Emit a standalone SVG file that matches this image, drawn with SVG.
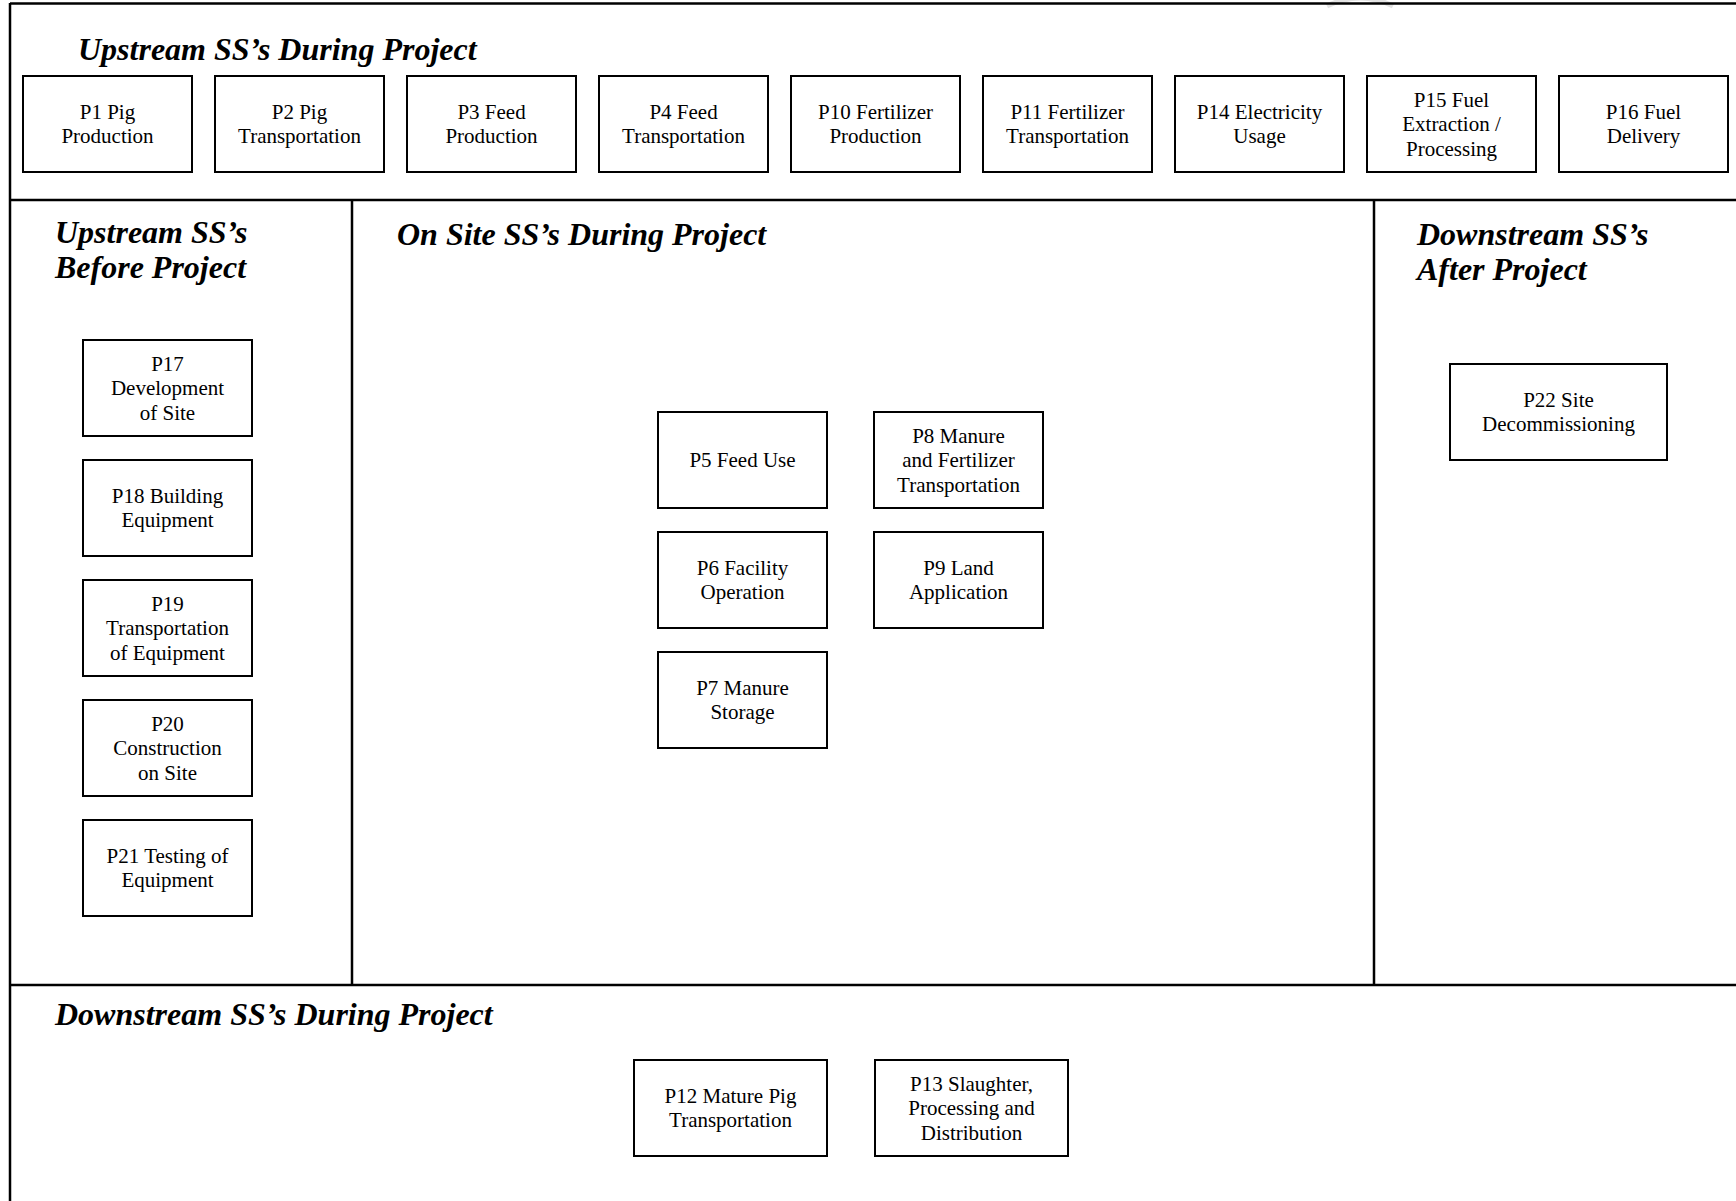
<svg xmlns="http://www.w3.org/2000/svg" width="1736" height="1201" viewBox="0 0 1736 1201">
<style>
.frame{stroke:#000;stroke-width:2.5;fill:none}
.box{fill:#fff;stroke:#000;stroke-width:2}
.t{font-family:"Liberation Serif","Times New Roman",serif;font-size:21px;fill:#000;text-anchor:middle}
.h{font-family:"Liberation Serif","Times New Roman",serif;font-size:32px;font-weight:bold;font-style:italic;fill:#000}
</style>
<rect width="1736" height="1201" fill="#fff"/>
<path d="M1327,6 Q1360,-10 1393,6" stroke="#e2e2e2" stroke-width="5" fill="none"/>
<g id="frame">
<line class="frame" x1="10" y1="3.5" x2="1736" y2="3.5"/>
<line class="frame" x1="10" y1="3" x2="10" y2="1201"/>
<line class="frame" x1="10" y1="200" x2="1736" y2="200"/>
<line class="frame" x1="352" y1="200" x2="352" y2="985"/>
<line class="frame" x1="1374" y1="200" x2="1374" y2="985"/>
<line class="frame" x1="10" y1="985" x2="1736" y2="985"/>
</g>
<g id="titles">
<text class="h" x="78" y="60">Upstream SS’s During Project</text>
<text class="h" x="55" y="243">Upstream SS’s</text>
<text class="h" x="55" y="278">Before Project</text>
<text class="h" x="397" y="245">On Site SS’s During Project</text>
<text class="h" x="1417" y="245">Downstream SS’s</text>
<text class="h" x="1417" y="280">After Project</text>
<text class="h" x="55" y="1025">Downstream SS’s During Project</text>
</g>
<g id="connectors"></g>
<g id="P1"><rect class="box" x="23" y="76" width="169" height="96"/><text class="t" x="107.5" y="118.75">P1 Pig</text><text class="t" x="107.5" y="143.25">Production</text></g>
<g id="P2"><rect class="box" x="215" y="76" width="169" height="96"/><text class="t" x="299.5" y="118.75">P2 Pig</text><text class="t" x="299.5" y="143.25">Transportation</text></g>
<g id="P3"><rect class="box" x="407" y="76" width="169" height="96"/><text class="t" x="491.5" y="118.75">P3 Feed</text><text class="t" x="491.5" y="143.25">Production</text></g>
<g id="P4"><rect class="box" x="599" y="76" width="169" height="96"/><text class="t" x="683.5" y="118.75">P4 Feed</text><text class="t" x="683.5" y="143.25">Transportation</text></g>
<g id="P10"><rect class="box" x="791" y="76" width="169" height="96"/><text class="t" x="875.5" y="118.75">P10 Fertilizer</text><text class="t" x="875.5" y="143.25">Production</text></g>
<g id="P11"><rect class="box" x="983" y="76" width="169" height="96"/><text class="t" x="1067.5" y="118.75">P11 Fertilizer</text><text class="t" x="1067.5" y="143.25">Transportation</text></g>
<g id="P14"><rect class="box" x="1175" y="76" width="169" height="96"/><text class="t" x="1259.5" y="118.75">P14 Electricity</text><text class="t" x="1259.5" y="143.25">Usage</text></g>
<g id="P15"><rect class="box" x="1367" y="76" width="169" height="96"/><text class="t" x="1451.5" y="106.5">P15 Fuel</text><text class="t" x="1451.5" y="131">Extraction /</text><text class="t" x="1451.5" y="155.5">Processing</text></g>
<g id="P16"><rect class="box" x="1559" y="76" width="169" height="96"/><text class="t" x="1643.5" y="118.75">P16 Fuel</text><text class="t" x="1643.5" y="143.25">Delivery</text></g>
<g id="P17"><rect class="box" x="83" y="340" width="169" height="96"/><text class="t" x="167.5" y="370.5">P17</text><text class="t" x="167.5" y="395">Development</text><text class="t" x="167.5" y="419.5">of Site</text></g>
<g id="P18"><rect class="box" x="83" y="460" width="169" height="96"/><text class="t" x="167.5" y="502.75">P18 Building</text><text class="t" x="167.5" y="527.25">Equipment</text></g>
<g id="P19"><rect class="box" x="83" y="580" width="169" height="96"/><text class="t" x="167.5" y="610.5">P19</text><text class="t" x="167.5" y="635">Transportation</text><text class="t" x="167.5" y="659.5">of Equipment</text></g>
<g id="P20"><rect class="box" x="83" y="700" width="169" height="96"/><text class="t" x="167.5" y="730.5">P20</text><text class="t" x="167.5" y="755">Construction</text><text class="t" x="167.5" y="779.5">on Site</text></g>
<g id="P21"><rect class="box" x="83" y="820" width="169" height="96"/><text class="t" x="167.5" y="862.75">P21 Testing of</text><text class="t" x="167.5" y="887.25">Equipment</text></g>
<g id="P5"><rect class="box" x="658" y="412" width="169" height="96"/><text class="t" x="742.5" y="467">P5 Feed Use</text></g>
<g id="P8"><rect class="box" x="874" y="412" width="169" height="96"/><text class="t" x="958.5" y="442.5">P8 Manure</text><text class="t" x="958.5" y="467">and Fertilizer</text><text class="t" x="958.5" y="491.5">Transportation</text></g>
<g id="P6"><rect class="box" x="658" y="532" width="169" height="96"/><text class="t" x="742.5" y="574.75">P6 Facility</text><text class="t" x="742.5" y="599.25">Operation</text></g>
<g id="P9"><rect class="box" x="874" y="532" width="169" height="96"/><text class="t" x="958.5" y="574.75">P9 Land</text><text class="t" x="958.5" y="599.25">Application</text></g>
<g id="P7"><rect class="box" x="658" y="652" width="169" height="96"/><text class="t" x="742.5" y="694.75">P7 Manure</text><text class="t" x="742.5" y="719.25">Storage</text></g>
<g id="P22"><rect class="box" x="1450" y="364" width="217" height="96"/><text class="t" x="1558.5" y="406.75">P22 Site</text><text class="t" x="1558.5" y="431.25">Decommissioning</text></g>
<g id="P12"><rect class="box" x="634" y="1060" width="193" height="96"/><text class="t" x="730.5" y="1102.75">P12 Mature Pig</text><text class="t" x="730.5" y="1127.25">Transportation</text></g>
<g id="P13"><rect class="box" x="875" y="1060" width="193" height="96"/><text class="t" x="971.5" y="1090.5">P13 Slaughter,</text><text class="t" x="971.5" y="1115">Processing and</text><text class="t" x="971.5" y="1139.5">Distribution</text></g>
</svg>
